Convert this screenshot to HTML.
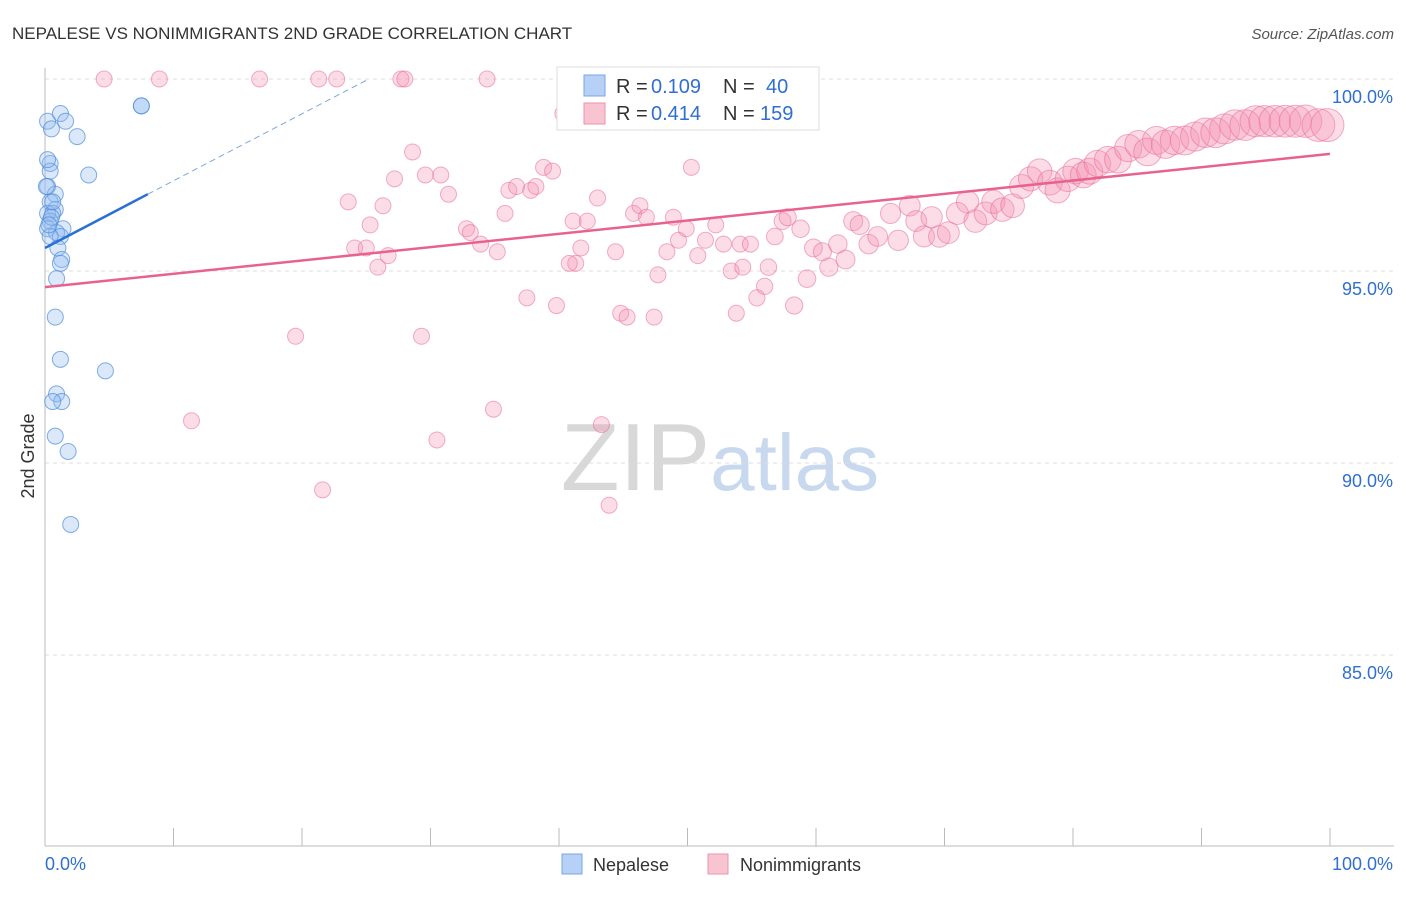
<!DOCTYPE html>
<html><head><meta charset="utf-8"><style>
body{margin:0;background:#fff;font-family:"Liberation Sans",sans-serif;}
svg text{font-family:"Liberation Sans",sans-serif;}
</style></head><body>
<svg id="chart" width="1406" height="892" xmlns="http://www.w3.org/2000/svg">
<text x="12" y="39" font-size="17" fill="#333">NEPALESE VS NONIMMIGRANTS 2ND GRADE CORRELATION CHART</text>
<text x="1394" y="39" font-size="15" fill="#555" text-anchor="end" font-style="italic">Source: ZipAtlas.com</text>
<text x="720" y="490" font-size="96" text-anchor="middle" fill="#ddd" font-family="Liberation Serif"><tspan fill="#d8d8d8">ZIP</tspan><tspan fill="#c7d8ef" font-family="Liberation Sans" font-size="80">atlas</tspan></text>
<text transform="translate(34,456) rotate(-90)" font-size="18" fill="#333" text-anchor="middle">2nd Grade</text>
<g id="grid"></g><g id="ticks"></g>
<line x1="45" y1="68" x2="45" y2="846" stroke="#bbb"/>
<line x1="45" y1="846" x2="1394" y2="846" stroke="#bbb"/>
<g id="pts"></g><g id="lines"></g>
<g>
<rect x="557" y="67" width="262" height="63" fill="#fff" stroke="#ddd"/>
<rect x="584" y="75" width="21" height="21" fill="#b7d0f5" stroke="#7aa6e6"/>
<rect x="584" y="103" width="21" height="21" fill="#f9c4d2" stroke="#ee92ae"/>
<text x="616" y="93" font-size="20" fill="#333">R =</text>
<text x="651" y="93" font-size="20" fill="#2f6fd1">0.109</text>
<text x="723" y="93" font-size="20" fill="#333">N =</text>
<text x="766" y="93" font-size="20" fill="#2f6fd1">40</text>
<text x="616" y="120" font-size="20" fill="#333">R =</text>
<text x="651" y="120" font-size="20" fill="#2f6fd1">0.414</text>
<text x="723" y="120" font-size="20" fill="#333">N =</text>
<text x="760" y="120" font-size="20" fill="#2f6fd1">159</text>
</g>
<g>
<rect x="562" y="854" width="20" height="20" fill="#b7d0f5" stroke="#7aa6e6"/>
<text x="593" y="871" font-size="18" fill="#333">Nepalese</text>
<rect x="708" y="854" width="20" height="20" fill="#f9c4d2" stroke="#ee92ae"/>
<text x="740" y="871" font-size="18" fill="#333">Nonimmigrants</text>
</g>
<text x="45" y="870" font-size="18" fill="#2f6fd1">0.0%</text>
<text x="1393" y="870" font-size="18" fill="#2f6fd1" text-anchor="end">100.0%</text>
</svg>
<script>
const yTicks=[100,95,90,85];
const yTickLabels=["100.0%","95.0%","90.0%","85.0%"];
const xTicks=[0,10,20,30,40,50,60,70,80,90,100];
const blueX=[0.2,0.5,1.2,1.6,2.5,7.5,0.4,0.4,3.4,0.2,0.8,0.4,0.8,0.2,0.6,0.4,1.4,0.2,0.9,1.2,0.4,1.0,1.3,1.2,0.9,0.8,1.2,4.7,0.9,1.3,0.6,0.8,1.8,2.0,0.5,0.3,0.2,0.6,0.1,7.5];
const blueY=[98.9,98.7,99.1,98.9,98.5,99.3,97.8,97.6,97.5,97.2,97.0,96.8,96.6,96.5,96.5,96.3,96.1,96.1,96.0,95.9,95.9,95.6,95.3,95.2,94.8,93.8,92.7,92.4,91.8,91.6,91.6,90.7,90.3,88.4,96.4,96.2,97.9,96.8,97.2,99.3];
const pinkX=[4.6,8.9,16.7,21.3,22.7,27.7,28.0,34.4,40.3,23.6,25.3,26.3,27.2,28.6,29.6,30.8,31.4,24.1,25.0,25.9,26.7,32.8,33.1,33.9,35.2,35.8,36.1,36.7,37.8,38.2,38.8,39.5,41.1,41.7,41.3,40.8,42.2,43.0,44.4,45.8,46.3,46.8,47.7,48.4,48.9,49.3,49.9,50.3,50.8,51.4,52.2,52.8,53.4,54.1,54.9,54.3,56.0,55.4,56.3,56.8,57.4,57.8,58.8,59.3,59.8,60.5,61.0,61.7,62.3,62.9,63.4,64.1,64.8,65.8,66.4,67.3,67.8,68.4,69.0,69.6,70.3,71.0,71.8,72.4,73.2,73.8,74.5,75.3,76.0,76.7,77.4,78.2,78.8,79.6,80.2,80.8,81.3,81.9,82.7,83.5,84.3,85.1,85.8,86.5,87.2,87.9,88.7,89.5,90.3,91.1,91.8,92.6,93.4,94.2,94.9,95.7,96.5,97.3,98.1,99.1,99.8,19.5,29.3,11.4,21.6,30.5,34.9,43.3,43.9,37.5,39.8,44.8,45.3,47.4,53.8,58.3];
const pinkY=[100,100,100,100,100,100,100,100,99.1,96.8,96.2,96.7,97.4,98.1,97.5,97.5,97.0,95.6,95.6,95.1,95.4,96.1,96.0,95.7,95.5,96.5,97.1,97.2,97.1,97.2,97.7,97.6,96.3,95.6,95.2,95.2,96.3,96.9,95.5,96.5,96.7,96.4,94.9,95.5,96.4,95.8,96.1,97.7,95.4,95.8,96.2,95.7,95.0,95.7,95.7,95.1,94.6,94.3,95.1,95.9,96.3,96.4,96.1,94.8,95.6,95.5,95.1,95.7,95.3,96.3,96.2,95.7,95.9,96.5,95.8,96.7,96.3,95.9,96.4,95.9,96.0,96.5,96.8,96.3,96.5,96.8,96.6,96.7,97.2,97.4,97.6,97.3,97.1,97.4,97.6,97.5,97.6,97.8,97.9,97.9,98.2,98.3,98.1,98.4,98.3,98.4,98.4,98.5,98.6,98.6,98.7,98.8,98.8,98.9,98.9,98.9,98.9,98.9,98.9,98.8,98.8,93.3,93.3,91.1,89.3,90.6,91.4,91.0,88.9,94.3,94.1,93.9,93.8,93.8,93.9,94.1];
const blueTrend=[[0,95.6],[8,97.0]];
const blueDash=[[8,97.0],[25.2,100]];
const pinkTrend=[[0,94.58],[100,98.05]];
const NS="http://www.w3.org/2000/svg";
const sx=v=>45+v*12.85;
const sy=v=>79+(100-v)*38.4;
function mk(t,a,p){const e=document.createElementNS(NS,t);for(const k in a)e.setAttribute(k,a[k]);document.getElementById(p).appendChild(e);return e;}
yTicks.forEach((t,i)=>{
 const g=mk('line',{x1:45,x2:1394,y1:sy(t),y2:sy(t),stroke:'#ddd','stroke-dasharray':'4,4'},'grid');
 
 
 const l=mk('text',{x:1393,y:sy(t)+24,'font-size':18,fill:'#2f6fd1','text-anchor':'end'},'ticks');
 l.textContent=yTickLabels[i];
 
 
});
xTicks.forEach(t=>{
 const k=mk('line',{x1:sx(t),x2:sx(t),y1:828,y2:846,stroke:'#bbb'},'ticks');
 
 
});
pinkX.forEach((x,i)=>{
 const r=8+Math.max(0,x-55)*0.19;
 const c=mk('circle',{cx:sx(x),cy:sy(pinkY[i]),r:r,fill:'rgba(244,143,177,0.3)',stroke:'rgba(232,110,150,0.55)','stroke-width':1},'pts');
 
 
});
blueX.forEach((x,i)=>{
 const c=mk('circle',{cx:sx(x),cy:sy(blueY[i]),r:8,fill:'rgba(150,190,240,0.35)',stroke:'rgba(80,140,220,0.7)','stroke-width':1},'pts');
 
 
});
const pl=mk('line',{x1:sx(pinkTrend[0][0]),y1:sy(pinkTrend[0][1]),x2:sx(pinkTrend[1][0]),y2:sy(pinkTrend[1][1]),stroke:'#e8628f','stroke-width':2.5},'lines');


const bl=mk('line',{x1:sx(blueTrend[0][0]),y1:sy(blueTrend[0][1]),x2:sx(blueTrend[1][0]),y2:sy(blueTrend[1][1]),stroke:'#2a6fd6','stroke-width':2.5},'lines');


const bd=mk('line',{x1:sx(blueDash[0][0]),y1:sy(blueDash[0][1]),x2:sx(blueDash[1][0]),y2:sy(blueDash[1][1]),stroke:'#7fa6e0','stroke-width':1,'stroke-dasharray':'6,4'},'lines');


</script>
</body></html>
